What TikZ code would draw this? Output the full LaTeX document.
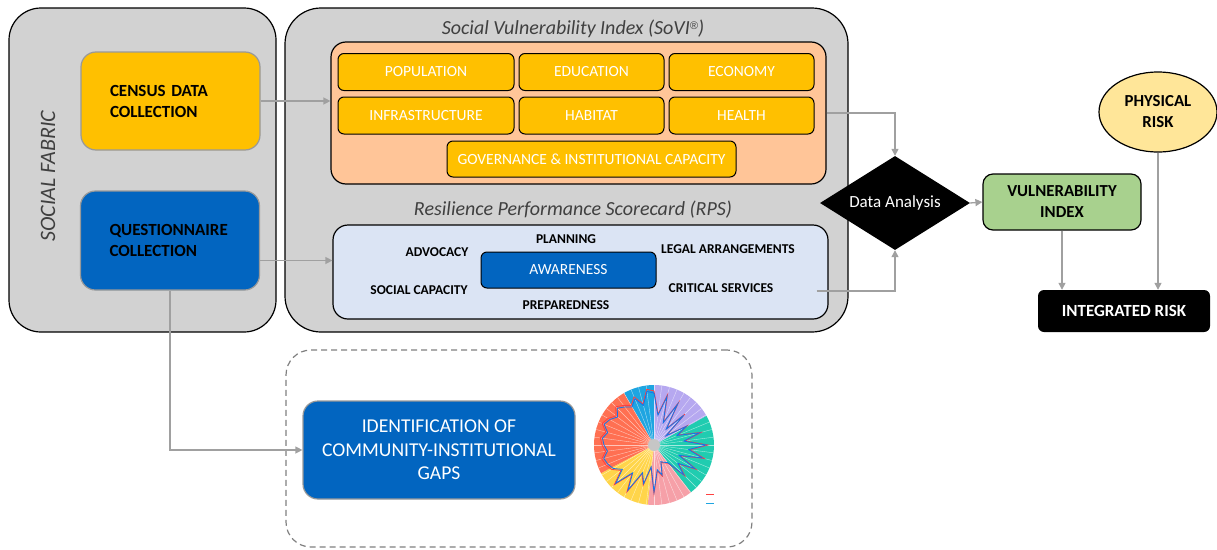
\documentclass[tikz,border=0pt]{standalone}
\usepackage{fontspec}
\setmainfont{Carlito}
\newfontfamily\markfont{Liberation Sans}
\usetikzlibrary{shapes.geometric,arrows.meta}

\definecolor{panelgray}{RGB}{210,210,210}
\definecolor{censusyellow}{RGB}{255,192,0}
\definecolor{questblue}{RGB}{2,101,192}
\definecolor{soviorange}{RGB}{255,197,152}
\definecolor{rpsblue}{RGB}{219,228,244}
\definecolor{vulngreen}{RGB}{168,209,142}
\definecolor{physyellow}{RGB}{255,230,153}
\definecolor{arrowgray}{RGB}{160,160,160}
\definecolor{darktext}{RGB}{64,64,64}
\definecolor{secblue}{RGB}{30,165,225}
\definecolor{secpurple}{RGB}{182,168,240}
\definecolor{secteal}{RGB}{32,204,176}
\definecolor{secpink}{RGB}{246,160,168}
\definecolor{secyellow}{RGB}{255,213,74}
\definecolor{secorange}{RGB}{255,112,82}

\begin{document}
\begin{tikzpicture}[x=1pt,y=-1pt,
    panel/.style={draw=black,line width=1.2pt,fill=panelgray,rounded corners=32pt,inner sep=0pt},
    srcbox/.style={draw=gray!80,line width=1.2pt,rounded corners=15pt,inner xsep=29pt,text width=121pt,
        align=left,font=\fontsize{17}{21}\selectfont\bfseries},
    item/.style={draw=black,line width=1pt,fill=censusyellow,rounded corners=6pt,minimum height=37pt,
        inner sep=0pt,text=white,font=\fontsize{15.5}{17}\selectfont},
    rpslabel/.style={font=\fontsize{13.5}{15}\selectfont\bfseries},
    paneltitle/.style={font=\fontsize{20}{22}\selectfont\itshape,text=darktext},
    flow/.style={draw=arrowgray,line width=1.3pt,-{Triangle[width=7pt,length=7pt]}}]

\useasboundingbox (0,0) rectangle (1217,549);

% social fabric panel
\node[panel,minimum width=267pt,minimum height=324pt] (fabric) at (142.5,170) {};
\node[rotate=90,font=\fontsize{22}{24}\selectfont\itshape,text=darktext] (fabrictitle) at (48,176) {SOCIAL FABRIC};
\node[srcbox,fill=censusyellow,minimum height=98pt] (census) at (170.5,101) {CENSUS DATA\\COLLECTION};
\node[srcbox,fill=questblue,minimum height=99pt] (quest) at (170,240.5) {QUESTIONNAIRE\\COLLECTION};

% indices panel
\node[panel,rounded corners=36pt,minimum width=563pt,minimum height=324pt] (indices) at (566.5,170) {};
\node[paneltitle] (sovititle) at (573,29) {Social Vulnerability Index (SoVI\raisebox{0.55ex}{\markfont\fontsize{11}{11}\selectfont\textregistered})};
\node[draw=black,line width=1.2pt,fill=soviorange,rounded corners=15pt,minimum width=495pt,minimum height=142pt] (sovi) at (578.5,113) {};
\node[item,minimum width=176pt] (population) at (426,72) {POPULATION};
\node[item,minimum width=145pt] (education) at (591.5,72) {EDUCATION};
\node[item,minimum width=145pt] (economy) at (741.5,72) {ECONOMY};
\node[item,minimum width=176pt] (infra) at (426,115.5) {INFRASTRUCTURE};
\node[item,minimum width=145pt] (habitat) at (591.5,115.5) {HABITAT};
\node[item,minimum width=145pt] (health) at (741.5,115.5) {HEALTH};
\node[item,minimum width=289pt,minimum height=36pt] (governance) at (591.5,159) {GOVERNANCE \& INSTITUTIONAL CAPACITY};

\node[paneltitle] (rpstitle) at (573,210) {Resilience Performance Scorecard (RPS)};
\node[draw=black,line width=1.2pt,fill=rpsblue,rounded corners=15pt,minimum width=495pt,minimum height=94pt] (rps) at (580.5,272) {};
\node[item,fill=questblue,minimum width=175pt,minimum height=36pt] (awareness) at (568.5,270) {AWARENESS};
\node[rpslabel] (planning) at (566,239) {PLANNING};
\node[rpslabel] (advocacy) at (437,252) {ADVOCACY};
\node[rpslabel] (legal) at (728,249) {LEGAL ARRANGEMENTS};
\node[rpslabel] (social) at (419,290) {SOCIAL CAPACITY};
\node[rpslabel] (critical) at (721,288) {CRITICAL SERVICES};
\node[rpslabel] (prepared) at (566,305) {PREPAREDNESS};

% analysis and risk
\node[diamond,aspect=1.6,fill=black,text=white,inner sep=0pt,minimum width=150pt,minimum height=94pt,
    font=\fontsize{17}{19}\selectfont] (analysis) at (895,203) {Data Analysis};
\node[draw=black,line width=1.2pt,fill=vulngreen,rounded corners=10pt,minimum width=158pt,minimum height=56pt,
    align=center,font=\fontsize{16.8}{21}\selectfont\bfseries] (vuln) at (1062,202) {VULNERABILITY\\INDEX};
\node[ellipse,draw=black,line width=1.2pt,fill=physyellow,inner sep=0pt,minimum width=118pt,minimum height=80pt,
    align=center,font=\fontsize{16.8}{21}\selectfont\bfseries] (phys) at (1158,112) {PHYSICAL\\RISK};
\node[fill=black,rounded corners=6pt,minimum width=172pt,minimum height=42pt,text=white,
    font=\fontsize{17}{19}\selectfont\bfseries] (integ) at (1124,311) {INTEGRATED RISK};

% gaps
\node[draw=gray,line width=1.2pt,dash pattern=on 6pt off 4pt,rounded corners=25pt,minimum width=466pt,minimum height=197pt] (gapframe) at (519,448.5) {};
\node[draw=gray!80,line width=1.2pt,fill=questblue,rounded corners=15pt,minimum width=272pt,minimum height=98pt,
    text=white,align=center,font=\fontsize{19.6}{23.5}\selectfont] (ident) at (439,450) {IDENTIFICATION OF\\COMMUNITY-INSTITUTIONAL\\GAPS};

\begin{scope}[shift={(654,445)},y=1pt]
    \fill[secblue] (0,0) -- (90:60) arc[start angle=90,end angle=120,radius=60] -- cycle;
    \fill[secpurple] (0,0) -- (29:60) arc[start angle=29,end angle=90,radius=60] -- cycle;
    \fill[secteal] (0,0) -- (-52:60) arc[start angle=-52,end angle=29,radius=60] -- cycle;
    \fill[secpink] (0,0) -- (-96:60) arc[start angle=-96,end angle=-52,radius=60] -- cycle;
    \fill[secyellow] (0,0) -- (-152:60) arc[start angle=-152,end angle=-96,radius=60] -- cycle;
    \fill[secorange] (0,0) -- (120:60) arc[start angle=120,end angle=208,radius=60] -- cycle;
    \foreach \a in {0,7.5,...,352.5}
        \draw[white,opacity=0.6,line width=0.4pt] (0,0) -- (\a:60);
    \fill[gray!45] (0,0) circle (6);
    \draw[red!75,line width=0.8pt,scale=1.04] (90:52) \foreach \r [count=\i] in
        {30,50,24,47,20,42,15,37,25,47,30,52,35,50,27,47,30,42,22,20,18,31,25,47,22,40,30,52,35,54,40,47,50,52,47,50,52,48,54,51,46,52,48,44,50,41,54}
        { -- ({90-7.5*\i}:\r)} -- cycle;
    \draw[secblue!70!blue,line width=0.8pt] (90:52) \foreach \r [count=\i] in
        {30,50,24,47,20,42,15,37,25,47,30,52,35,50,27,47,30,42,22,20,18,31,25,47,22,40,30,52,35,54,40,47,50,52,47,50,52,48,54,51,46,52,48,44,50,41,54}
        { -- ({90-7.5*\i}:\r)} -- cycle;
\end{scope}
\draw[red!75,line width=0.8pt] (706,494) -- (714,494);
\draw[secblue,line width=0.8pt] (706,503) -- (714,503);

% connectors
\coordinate (qout) at ([yshift=-20pt]quest.east);
\coordinate (rpsout) at ([xshift=-12pt,yshift=-19pt]rps.east);
\draw[flow] (census.east) -- (census.east -| sovi.west);
\draw[flow] (qout) -- (qout -| rps.west);
\draw[flow] (sovi.east) -| (analysis.north);
\draw[flow] (rpsout) -| (analysis.south);
\draw[flow] (analysis.east) -- (vuln.west);
\draw[flow] (vuln.south) -- (vuln.south |- integ.north);
\draw[flow] (phys.south) -- (phys.south |- integ.north);
\draw[flow] (quest.south) |- (ident.west);
\end{tikzpicture}
\end{document}
